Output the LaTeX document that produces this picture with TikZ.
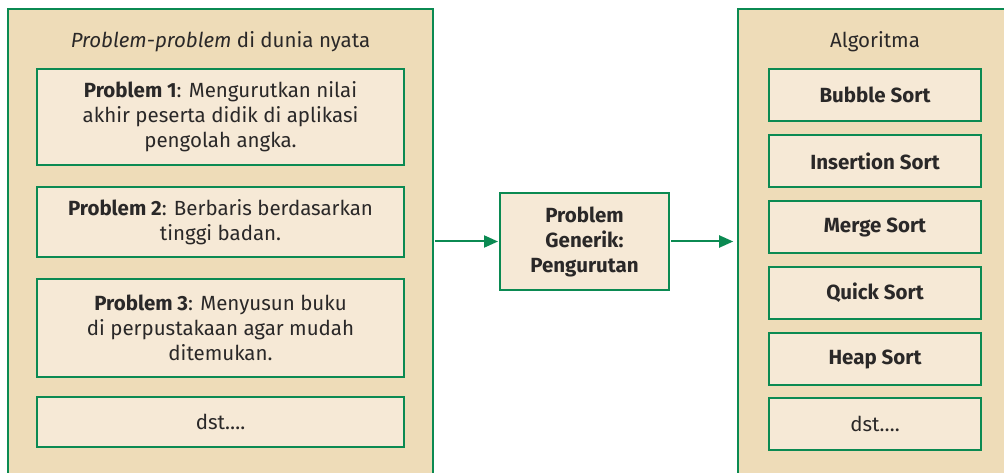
\documentclass[tikz,border=0pt]{standalone}
\usepackage{fontspec}
\setmainfont{Fira Sans}
\usetikzlibrary{arrows.meta}
\definecolor{boxgreen}{HTML}{0B8A52}
\definecolor{outerfill}{HTML}{EEDCB8}
\definecolor{innerfill}{HTML}{F6E9D6}
\definecolor{inktext}{HTML}{2A2828}
\newcommand{\boxfont}{\fontsize{20.5}{25}\selectfont}
\tikzset{
  outerbox/.style={draw=boxgreen, line width=1.6pt, fill=outerfill},
  probbox/.style={draw=boxgreen, line width=2pt, fill=innerfill, text=inktext,
    align=center, font=\boxfont, inner sep=0pt},
  sortbox/.style={probbox, minimum width=212pt, minimum height=52pt},
  flowarrow/.style={draw=boxgreen, line width=2pt, -{Triangle[length=14pt,width=12pt]}}
}
\begin{document}
\begin{tikzpicture}[x=1pt,y=-1pt]
  \clip (0,0) rectangle (1004,473);
  \fill[white] (0,0) rectangle (1004,473);
  % Outer panels (they run past the bottom edge)
  \node[outerbox, minimum width=425pt, minimum height=480pt, inner sep=0pt] (world) at (220.5,249) {};
  \node[outerbox, minimum width=280pt, minimum height=480pt, inner sep=0pt] (algo) at (878,249) {};
  \node[text=inktext, font=\boxfont] (worldtitle) at (220.5,42) {\textit{Problem-problem} di dunia nyata};
  \node[text=inktext, font=\boxfont] (algotitle) at (875,42) {Algoritma};

  % Real-world problems
  \node[probbox, minimum width=367pt, minimum height=96pt] (prob1) at (220.5,117)
    {\textbf{Problem 1}: Mengurutkan nilai\\akhir peserta didik di aplikasi\\pengolah angka.};
  \node[probbox, minimum width=367pt, minimum height=70pt] (prob2) at (220.5,222)
    {\textbf{Problem 2}: Berbaris berdasarkan\\tinggi badan.};
  \node[probbox, minimum width=367pt, minimum height=98pt] (prob3) at (220.5,328)
    {\textbf{Problem 3}: Menyusun buku\\di perpustakaan agar mudah\\ditemukan.};
  \node[probbox, minimum width=367pt, minimum height=50pt] (probetc) at (220.5,422) {dst\dots.};

  % Generic problem
  \node[probbox, minimum width=169pt, minimum height=97pt, font=\bfseries\boxfont] (generic) at (584.5,241.5)
    {Problem\\Generik:\\Pengurutan};

  % Algorithms
  \node[sortbox, font=\bfseries\boxfont] (bubble) at (875,95) {Bubble Sort};
  \node[sortbox, font=\bfseries\boxfont] (insertion) at (875,161) {Insertion Sort};
  \node[sortbox, font=\bfseries\boxfont] (merge) at (875,227) {Merge Sort};
  \node[sortbox, font=\bfseries\boxfont] (quick) at (875,293) {Quick Sort};
  \node[sortbox, font=\bfseries\boxfont] (heap) at (875,359) {Heap Sort};
  \node[sortbox] (sortetc) at (875,424) {dst\dots.};

  % Connectors
  \draw[flowarrow, shorten <=1pt, shorten >=1pt] (world.east |- generic.west) -- (generic.west);
  \draw[flowarrow, shorten <=1pt, shorten >=4pt] (generic.east) -- (algo.west |- generic.east);
\end{tikzpicture}
\end{document}
